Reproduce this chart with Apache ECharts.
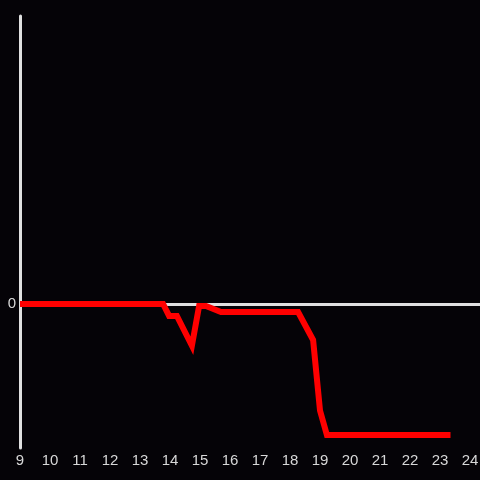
<!DOCTYPE html>
<html>
<head>
<meta charset="utf-8">
<script src="https://cdn.jsdelivr.net/npm/echarts@6/dist/echarts.min.js"></script>
<style>
  html, body { margin: 0; padding: 0; background: #050307; }
  #chart { width: 480px; height: 480px; }
</style>
</head>
<body>
<div id="chart"></div>
<script>
// x positions (hours) and values of the red line
let xs = [9, 13.77, 13.97, 14.23, 14.73, 14.97, 15.2, 15.7, 18.27, 18.77, 19.0, 19.23, 23.35]
let ys = [0, 0, -8.3, -8.3, -29, -1.4, -1.4, -5.6, -5.6, -25, -74, -91, -91]
let xTicks = [9, 10, 11, 12, 13, 14, 15, 16, 17, 18, 19, 20, 21, 22, 23, 24]

let points = []
xs.forEach(function (v, i) {
    points.push([v, ys[i]])
})

let myChart = echarts.init(document.getElementById('chart'))

let option = {
    backgroundColor: '#050307',
    animation: false,
    grid: {
        left: 20,
        right: 0,
        top: 16,
        bottom: 32,
        outerBoundsMode: 'none',
        containLabel: false
    },
    xAxis: {
        type: 'value',
        min: 9,
        max: 24.333,
        interval: 1,
        axisLine: {show: false},
        axisTick: {show: false},
        splitLine: {show: false},
        axisLabel: {
            color: '#d8d8d8',
            fontSize: 15,
            fontFamily: 'Liberation Sans',
            margin: 5,
            formatter: function (v) {
                return xTicks.indexOf(v) >= 0 ? String(v) : ''
            }
        }
    },
    yAxis: {
        type: 'value',
        min: -100,
        max: 200,
        interval: 100,
        axisLine: {show: true, onZero: false, lineStyle: {color: '#e0e0e0', width: 3}},
        axisTick: {show: false},
        splitLine: {show: false},
        axisLabel: {
            color: '#d8d8d8',
            fontSize: 15,
            fontFamily: 'Liberation Sans',
            margin: 4,
            formatter: function (v) {
                return v === 0 ? '0' : ''
            }
        }
    },
    series: [{
        type: 'line',
        data: points,
        showSymbol: false,
        symbol: 'none',
        lineStyle: {color: '#ff0000', width: 6, cap: 'butt', join: 'miter'},
        z: 3,
        markLine: {
            silent: true,
            symbol: 'none',
            label: {show: false},
            lineStyle: {color: '#e0e0e0', width: 3, type: 'solid'},
            data: [{yAxis: 0}],
            z: 1
        }
    }]
}
myChart.setOption(option)
</script>
</body>
</html>
